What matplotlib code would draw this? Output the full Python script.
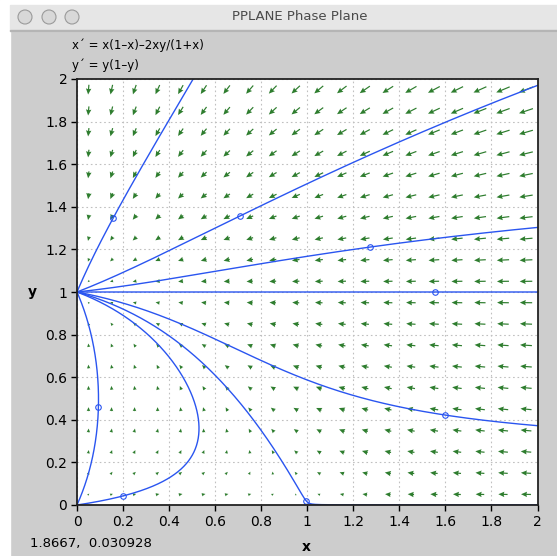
import numpy as np
import matplotlib
matplotlib.use('Agg')
import matplotlib.pyplot as plt
from matplotlib.patches import Rectangle, Ellipse

# starting points of the plotted solutions (the little circles)
start_x = [0.158, 0.708, 1.273, 1.555, 1.598, 0.093, 0.198, 0.995]
start_y = [1.349, 1.357, 1.211, 1.000, 0.4225, 0.460, 0.042, 0.020]

# direction field sample points (20 x 20 grid)
field_x = np.arange(0.05, 2.0, 0.1)
field_y = np.arange(0.05, 2.0, 0.1)

ticks = [0, 0.2, 0.4, 0.6, 0.8, 1.0, 1.2, 1.4, 1.6, 1.8, 2.0]
tick_labels = ['0', '0.2', '0.4', '0.6', '0.8', '1', '1.2', '1.4', '1.6', '1.8', '2']

eq_x = "x\u00b4 = x(1\u2013x)\u20132xy/(1+x)"
eq_y = "y\u00b4 = y(1\u2013y)"
status = "1.8667,  0.030928"

W, H = 557, 556


def f(x, y):
    return x * (1 - x) - 2 * x * y / (1 + x), y * (1 - y)


def solve(x, y, dt, nmax=4000):
    pts = [(x, y)]
    for _ in range(nmax):
        k1 = f(x, y)
        k2 = f(x + dt * k1[0] / 2, y + dt * k1[1] / 2)
        k3 = f(x + dt * k2[0] / 2, y + dt * k2[1] / 2)
        k4 = f(x + dt * k3[0], y + dt * k3[1])
        x = x + dt * (k1[0] + 2 * k2[0] + 2 * k3[0] + k4[0]) / 6
        y = y + dt * (k1[1] + 2 * k2[1] + 2 * k3[1] + k4[1]) / 6
        pts.append((x, y))
        if x < -0.02 or x > 2.02 or y < -0.02 or y > 2.02:
            break
        if np.hypot(*f(x, y)) < 1e-5:
            break
    return np.array(pts)


def px(x, y):
    return x / W, 1 - y / H


fig = plt.figure(figsize=(W / 100, H / 100), dpi=100)
fig.patch.set_facecolor('#cdcdcd')

# window frame bits
fig.add_artist(Rectangle((0, 0), 10 / W, 1, transform=fig.transFigure, color='white', zorder=0))
fig.add_artist(Rectangle(px(0, 5), 1, 5 / H, transform=fig.transFigure, color='white', zorder=0))
fig.add_artist(Rectangle(px(10, 31), 1, 26 / H, transform=fig.transFigure, color='#e6e6e6', zorder=0))
fig.add_artist(Rectangle(px(10, 31), 1, 1 / H, transform=fig.transFigure, color='#b5b5b5', zorder=0))
for cx in [25, 49, 72]:
    fig.add_artist(Ellipse(px(cx, 17), 14 / W, 14 / H, transform=fig.transFigure,
                           facecolor='#d8d8d8', edgecolor='#9a9a9a', lw=0.8, zorder=1))
fig.text(*px(300, 17), 'PPLANE Phase Plane', ha='center', va='center', fontsize=9.5, color='#4a4a4a')
fig.text(*px(72, 45), eq_x, ha='left', va='center', fontsize=8.5, color='black')
fig.text(*px(72, 65), eq_y, ha='left', va='center', fontsize=8.5, color='black')
fig.text(*px(30, 544), status, ha='left', va='center', fontsize=9.5, color='black')
fig.text(*px(306, 547), 'x', ha='center', va='center', fontsize=10, fontweight='bold')
fig.text(*px(32, 292), 'y', ha='center', va='center', fontsize=10, fontweight='bold')

ax = fig.add_axes([77 / W, (H - 505) / H, 460.5 / W, 426 / H])
ax.set_facecolor('white')
ax.set_xlim(0, 2)
ax.set_ylim(0, 2)
ax.set_xticks(ticks)
ax.set_xticklabels(tick_labels)
ax.set_yticks(ticks)
ax.set_yticklabels(tick_labels)
ax.tick_params(direction='out', length=4, width=1, labelsize=10, pad=3)
ax.grid(True, color='#c0c0c0', linestyle=(0, (1.5, 2.5)), linewidth=0.8)
for s in ax.spines.values():
    s.set_color('#222222')
    s.set_linewidth(1.3)
    s.set_zorder(6)

# direction field, arrow length grows slowly with speed
X, Y = np.meshgrid(field_x, field_y)
u, v = f(X, Y)
sx = 460.5 / 2
sy = 426 / 2
ang = np.arctan2(v * sy, u * sx)
mag = np.hypot(u, v)
L = 15 * (mag / mag.max()) ** 0.45
U = L * np.cos(ang) / sx
V = L * np.sin(ang) / sy
ax.quiver(X, Y, U, V, angles='xy', scale_units='xy', scale=1, pivot='middle',
          units='dots', width=1.2, headwidth=4.5, headlength=5, headaxislength=4.5,
          color='#2e7d2e', zorder=3)

for x0, y0 in zip(start_x, start_y):
    fwd = solve(x0, y0, 0.01)
    bwd = solve(x0, y0, -0.01)
    path = np.vstack([bwd[::-1], fwd[1:]])
    ax.plot(path[:, 0], path[:, 1], color='#2a55f0', lw=1.0, zorder=4)
    ax.plot([x0], [y0], 'o', ms=4, mfc='none', mec='#2a55f0', mew=0.8, zorder=5)

fig.savefig('out.png', dpi=100, facecolor=fig.get_facecolor())
